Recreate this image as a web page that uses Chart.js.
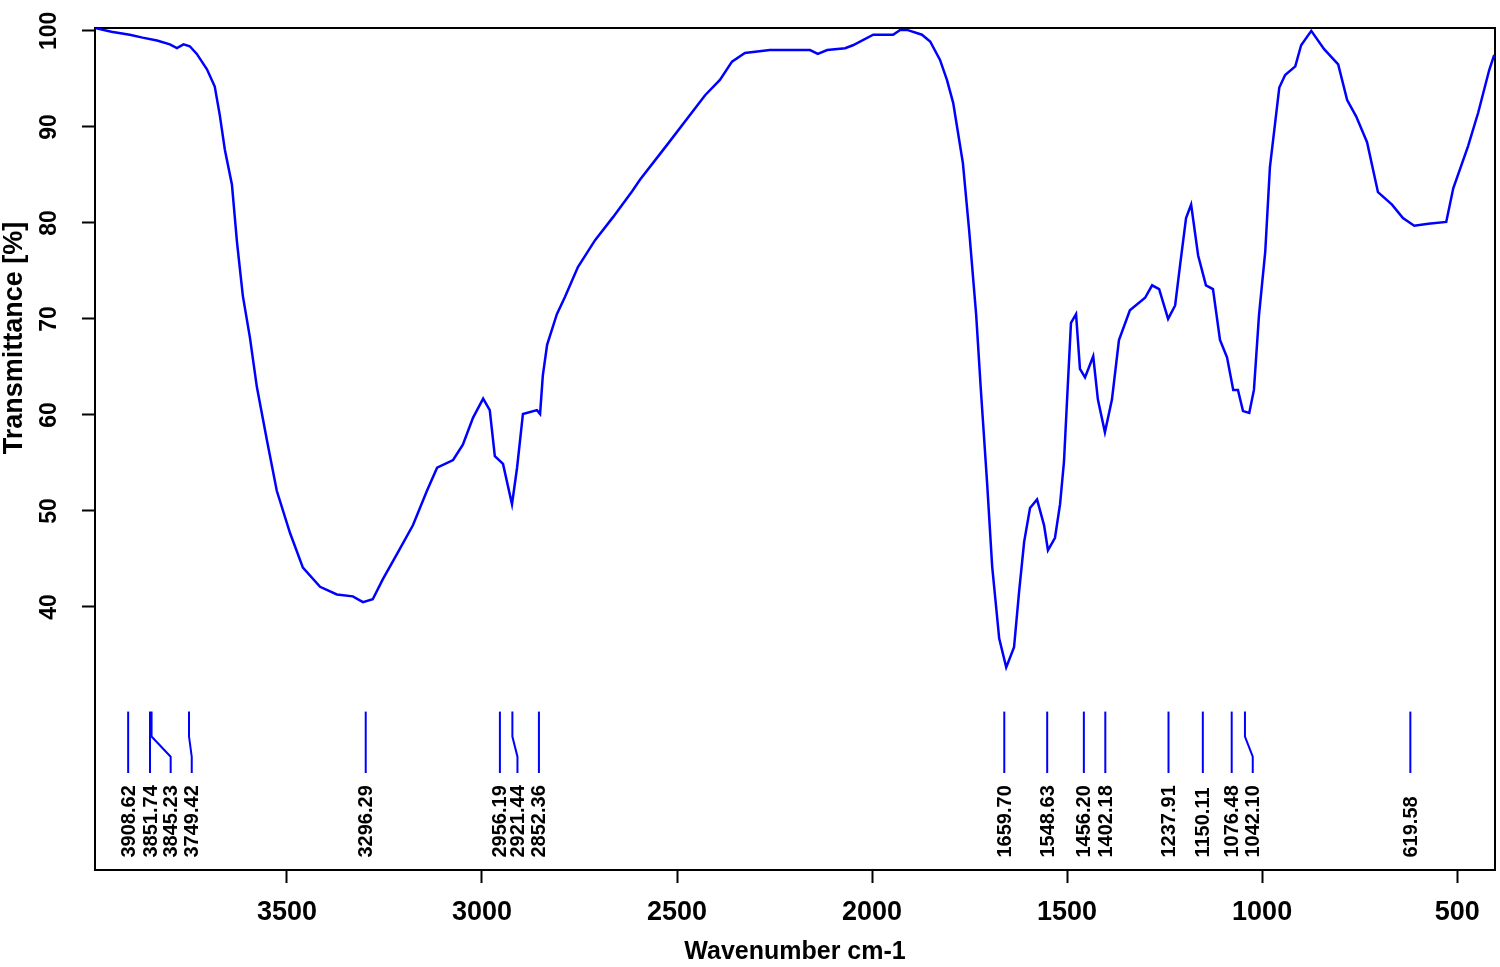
<html>
<head>
    <meta charset="utf-8">
    <title>FTIR spectrum</title>
    <script src="https://cdn.jsdelivr.net/npm/chart.js@4.4.1/dist/chart.umd.min.js"></script>
    <style type="text/css">
        body { margin: 0; background: #fff; }
        .chart { width: 1500px; height: 967px; }
    </style>
</head>
<body>
<div class="chart">
    <canvas id="irChart" width="1500" height="967"></canvas>
</div>

<script>
    // spectrum (cm-1, % transmittance)
    var wavenumber = [
        3992, 3950, 3903, 3870, 3833, 3800, 3782, 3765, 3749, 3731, 3705, 3685, 3672, 3659, 3641,
        3628, 3613, 3595, 3577, 3551, 3526, 3492, 3459, 3415, 3372, 3331, 3305, 3280, 3254, 3218,
        3177, 3141, 3115, 3074, 3049, 3023, 2997, 2980, 2967, 2946, 2923, 2910, 2895, 2859, 2851,
        2844, 2833, 2808, 2787, 2754, 2710, 2664, 2615, 2595, 2526, 2428, 2390, 2359, 2326, 2262,
        2159, 2139, 2115, 2069, 2049, 1997, 1946, 1928, 1910, 1872, 1851, 1826, 1808, 1792, 1780,
        1767, 1751, 1733, 1721, 1705, 1692, 1674, 1656, 1636, 1623, 1610, 1595, 1577, 1559, 1549,
        1531, 1518, 1508, 1500, 1490, 1477, 1467, 1454, 1433, 1421, 1403, 1385, 1367, 1339, 1300,
        1282, 1264, 1241, 1223, 1210, 1195, 1182, 1164, 1144, 1126, 1108, 1090, 1074, 1062, 1049,
        1033, 1021, 1008, 992, 980, 956, 941, 915, 900, 874, 841, 805, 782, 759, 731,
        703, 667, 639, 610, 574, 528, 510, 472, 446, 418, 405
    ];
    var transmittance = [
        100.3, 99.9, 99.6, 99.3, 99.0, 98.6, 98.2, 98.6, 98.4, 97.6, 96.0, 94.2, 91.2, 87.6, 84.0,
        78.0, 72.4, 68.1, 62.9, 57.3, 52.1, 47.7, 44.1, 42.1, 41.3, 41.1, 40.5, 40.8, 42.9, 45.5,
        48.5, 52.1, 54.5, 55.3, 56.9, 59.7, 61.7, 60.5, 55.7, 54.9, 50.7, 54.5, 60.1, 60.5, 60.1,
        64.1, 67.3, 70.5, 72.3, 75.4, 78.2, 80.6, 83.3, 84.5, 88.1, 93.3, 94.9, 96.8, 97.7, 98.0,
        98.0, 97.6, 98.0, 98.2, 98.5, 99.6, 99.6, 100.1, 100.1, 99.6, 98.9, 97.0, 94.9, 92.5, 89.5,
        86.2, 79.2, 70.4, 62.6, 52.9, 44.2, 36.7, 33.7, 35.8, 41.6, 46.8, 50.3, 51.2, 48.5, 45.9,
        47.2, 50.7, 55.1, 61.6, 69.6, 70.5, 64.8, 63.9, 66.1, 61.6, 58.2, 61.6, 67.8, 70.9, 72.2,
        73.5, 73.1, 70.0, 71.4, 75.7, 80.5, 81.9, 76.6, 73.5, 73.1, 67.8, 66.0, 62.6, 62.6, 60.4,
        60.2, 62.6, 70.4, 77.0, 85.8, 94.1, 95.4, 96.3, 98.5, 100.0, 98.1, 96.5, 92.8, 91.1, 88.4,
        83.2, 81.9, 80.5, 79.7, 79.9, 80.1, 83.6, 88.0, 91.5, 95.9, 97.5
    ];

    var xTicks = [3500, 3000, 2500, 2000, 1500, 1000, 500];
    var yTicks = [40, 50, 60, 70, 80, 90, 100];

    // picked peaks: text, where the mark starts, where its label sits
    var peakLabels = ['3908.62', '3851.74', '3845.23', '3749.42', '3296.29', '2956.19', '2921.44', '2852.36',
        '1659.70', '1548.63', '1456.20', '1402.18', '1237.91', '1150.11', '1076.48', '1042.10', '619.58'];
    var peakPos = [3907, 3851, 3847, 3751, 3298, 2954, 2922, 2854,
        1661, 1551, 1457, 1402, 1240, 1152, 1078, 1044, 620];
    var labelPos = [3907, 3851, 3798, 3744, 3298, 2954, 2909, 2854,
        1661, 1551, 1457, 1402, 1240, 1152, 1078, 1024, 620];

    var lineBlue = '#0000ff';
    var fontFamily = "'Liberation Sans', Arial, sans-serif";

    // heights (in % units) of the peak marks
    var markTop = 29.1, bendTop = 26.5, bendBottom = 24.4, markBottom = 22.7, labelFoot = 13.9;

    var points = wavenumber.map(function(w, i) {
        return {x: w, y: transmittance[i]};
    });

    var frameAndMarks = {
        id: 'frameAndMarks',
        beforeDatasetsDraw: function(chart) {
            var a = chart.chartArea, ctx = chart.ctx;
            ctx.save();
            ctx.strokeStyle = '#000';
            ctx.lineWidth = 2;
            ctx.strokeRect(a.left, a.top, a.right - a.left, a.bottom - a.top);
            ctx.restore();
        },
        afterDatasetsDraw: function(chart) {
            var ctx = chart.ctx, xs = chart.scales.x, ys = chart.scales.y;
            ctx.save();
            ctx.strokeStyle = lineBlue;
            ctx.lineWidth = 2;
            ctx.fillStyle = '#000';
            ctx.font = 'bold 20px ' + fontFamily;
            peakPos.forEach(function(p, i) {
                var x0 = xs.getPixelForValue(p), x1 = xs.getPixelForValue(labelPos[i]);
                ctx.beginPath();
                ctx.moveTo(x0, ys.getPixelForValue(markTop));
                if (p !== labelPos[i]) {
                    ctx.lineTo(x0, ys.getPixelForValue(bendTop));
                    ctx.lineTo(x1, ys.getPixelForValue(bendBottom));
                }
                ctx.lineTo(x1, ys.getPixelForValue(markBottom));
                ctx.stroke();

                ctx.save();
                ctx.translate(x1, ys.getPixelForValue(labelFoot));
                ctx.rotate(-Math.PI / 2);
                ctx.textAlign = 'left';
                ctx.textBaseline = 'middle';
                ctx.fillText(peakLabels[i], 0, 1);
                ctx.restore();
            });

            // y axis title
            ctx.save();
            ctx.font = 'bold 27px ' + fontFamily;
            ctx.translate(15, 338);
            ctx.rotate(-Math.PI / 2);
            ctx.textAlign = 'center';
            ctx.textBaseline = 'middle';
            ctx.fillText('Transmittance [%]', 0, 0);
            ctx.restore();
            ctx.restore();
        }
    };

    var ctx = document.getElementById('irChart').getContext('2d');
    var irChart = new Chart(ctx, {
        type: 'line',
        data: {
            datasets: [{
                data: points,
                borderColor: lineBlue,
                borderWidth: 2.5,
                pointRadius: 0,
                tension: 0,
                fill: false
            }]
        },
        options: {
            responsive: false,
            animation: false,
            layout: {padding: {top: 28, right: 5, left: 0, bottom: 0}},
            plugins: {
                legend: {display: false},
                tooltip: {enabled: false}
            },
            scales: {
                x: {
                    type: 'linear',
                    reverse: true,
                    min: 403,
                    max: 3992,
                    afterBuildTicks: function(s) {
                        s.ticks = xTicks.map(function(v) { return {value: v}; });
                    },
                    afterFit: function(s) { s.height = 97; },
                    grid: {drawOnChartArea: false, drawTicks: true, tickLength: 13, tickColor: '#000', tickWidth: 2},
                    border: {display: true, color: '#000', width: 2},
                    ticks: {
                        color: '#000',
                        padding: 13,
                        maxRotation: 0,
                        autoSkip: false,
                        callback: function(v) { return String(v); },
                        font: {family: fontFamily, size: 27, weight: 'bold'}
                    },
                    title: {
                        display: true,
                        text: 'Wavenumber cm-1',
                        color: '#000',
                        padding: {top: 0, bottom: 0},
                        font: {family: fontFamily, size: 25, weight: 'bold'}
                    }
                },
                y: {
                    min: 12.6,
                    max: 100.3,
                    afterBuildTicks: function(s) {
                        s.ticks = yTicks.map(function(v) { return {value: v}; });
                    },
                    afterFit: function(s) { s.width = 95; },
                    grid: {drawOnChartArea: false, drawTicks: true, tickLength: 13, tickColor: '#000', tickWidth: 2},
                    border: {display: true, color: '#000', width: 2},
                    ticks: {
                        color: '#000',
                        minRotation: 90,
                        maxRotation: 90,
                        crossAlign: 'center',
                        padding: 13,
                        autoSkip: false,
                        callback: function(v) { return String(v); },
                        font: {family: fontFamily, size: 23, weight: 'bold'}
                    }
                }
            }
        },
        plugins: [frameAndMarks]
    });
</script>
</body>
</html>
